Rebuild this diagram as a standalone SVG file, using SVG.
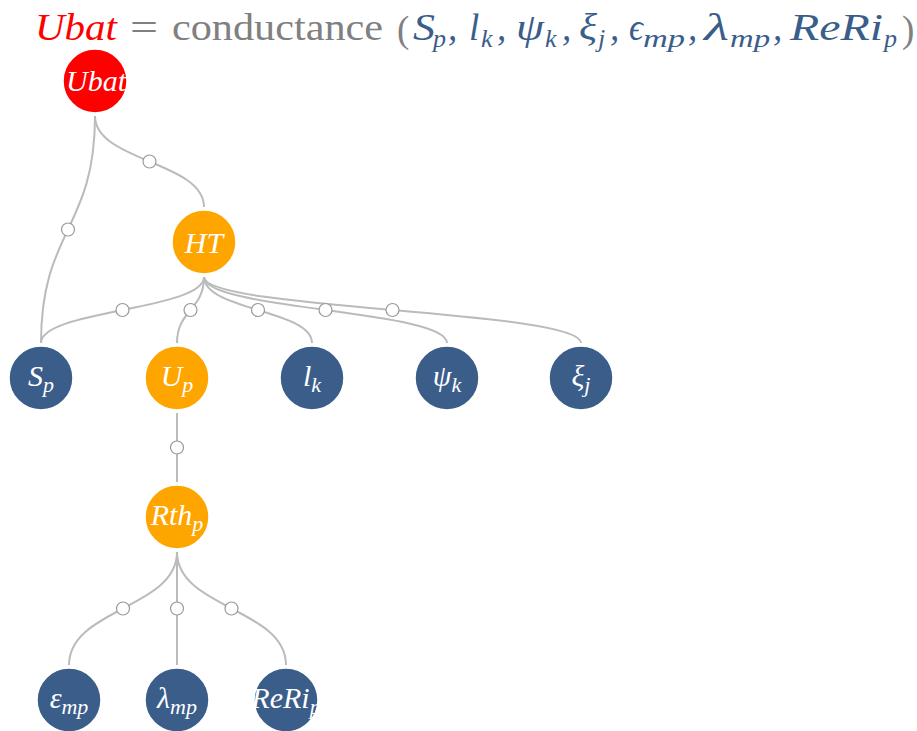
<svg xmlns="http://www.w3.org/2000/svg" width="917" height="731" viewBox="0 0 917 731">
<style>
.link{fill:none;stroke:#bbb;stroke-width:2}
.mid{fill:#fff;stroke:#999;stroke-width:1.2}
.node circle{stroke:#fff;stroke-width:1.5}
.blue circle{fill:#3a5d8a}
.orange circle{fill:#ffa500}
.red circle{fill:#ff0000}
.lbl{font-family:"Liberation Serif","DejaVu Serif",serif;font-style:italic;fill:#fff;font-size:30px}
.sub{font-size:22px}
.t{font-family:"Liberation Serif","DejaVu Serif",serif;font-size:37px}
.mi{font-style:italic;fill:#3a5d8a}
.g{fill:#808080}
.ts{font-size:26px}
</style>
<rect width="917" height="731" fill="#fff"/>
<g id="title">
<text class="t" x="35" y="40" fill="#ff0000" font-style="italic" textLength="82" lengthAdjust="spacingAndGlyphs">Ubat</text>
<text class="t g" x="130" y="40" textLength="28" lengthAdjust="spacingAndGlyphs">=</text>
<text class="t g" x="172" y="40" textLength="211" lengthAdjust="spacingAndGlyphs">conductance</text>
<text class="t g" x="397" y="42" font-size="44">(</text>
<text class="t mi" x="413" y="40" textLength="22" lengthAdjust="spacingAndGlyphs">S</text>
<text class="t mi ts" x="433" y="47">p</text>
<text class="t mi" x="448" y="40">,</text>
<text class="t mi" x="469" y="40">l</text>
<text class="t mi ts" x="481" y="47">k</text>
<text class="t mi" x="497" y="40">,</text>
<text class="t mi" x="516" y="40" textLength="28" lengthAdjust="spacingAndGlyphs">ψ</text>
<text class="t mi ts" x="545" y="47">k</text>
<text class="t mi" x="562" y="40">,</text>
<text class="t mi" x="579" y="40" textLength="18" lengthAdjust="spacingAndGlyphs">ξ</text>
<text class="t mi ts" x="598" y="47">j</text>
<text class="t mi" x="610" y="40">,</text>
<text class="t mi" x="629" y="40" textLength="14" lengthAdjust="spacingAndGlyphs">ϵ</text>
<text class="t mi ts" x="643" y="47" textLength="42" lengthAdjust="spacingAndGlyphs">mp</text>
<text class="t mi" x="688" y="40">,</text>
<text class="t mi" x="704" y="40" textLength="25" lengthAdjust="spacingAndGlyphs">λ</text>
<text class="t mi ts" x="730" y="47" textLength="40" lengthAdjust="spacingAndGlyphs">mp</text>
<text class="t mi" x="773" y="40">,</text>
<text class="t mi" x="790" y="40" textLength="93" lengthAdjust="spacingAndGlyphs">ReRi</text>
<text class="t mi ts" x="884" y="47">p</text>
<text class="t g" x="902" y="42" font-size="44">)</text>
</g>
<g id="links">
<path class="link" d="M95,116C95,229.5 41,229.5 41,343"/>
<path class="link" d="M95,116C95,161.5 204,161.5 204,207"/>
<path class="link" d="M204,277C204,310 41,310 41,343"/>
<path class="link" d="M204,277C204,310 177,310 177,343"/>
<path class="link" d="M204,277C204,310 312,310 312,343"/>
<path class="link" d="M204,277C204,310 447,310 447,343"/>
<path class="link" d="M204,277C204,310 581,310 581,343"/>
<path class="link" d="M177,413C177,447.5 177,447.5 177,482"/>
<path class="link" d="M177,552C177,608.5 69,608.5 69,665"/>
<path class="link" d="M177,552C177,608.5 177,608.5 177,665"/>
<path class="link" d="M177,552C177,608.5 286,608.5 286,665"/>
<circle class="mid" cx="68" cy="229.5" r="6.5"/>
<circle class="mid" cx="149.5" cy="161.5" r="6.5"/>
<circle class="mid" cx="122.5" cy="310" r="6.5"/>
<circle class="mid" cx="190.5" cy="310" r="6.5"/>
<circle class="mid" cx="258" cy="310" r="6.5"/>
<circle class="mid" cx="325.5" cy="310" r="6.5"/>
<circle class="mid" cx="392.5" cy="310" r="6.5"/>
<circle class="mid" cx="177" cy="447.5" r="6.5"/>
<circle class="mid" cx="123" cy="608.5" r="6.5"/>
<circle class="mid" cx="177" cy="608.5" r="6.5"/>
<circle class="mid" cx="231.5" cy="608.5" r="6.5"/>
</g>
<g id="n-ubat" class="node red"><circle cx="95" cy="81" r="32"/><text class="lbl" x="96" y="91" font-size="28.5" text-anchor="middle">Ubat</text></g>
<g id="n-ht" class="node orange"><circle cx="204" cy="242" r="32"/><text class="lbl" x="204" y="253" text-anchor="middle">HT</text></g>
<g id="n-sp" class="node blue"><circle cx="41" cy="378" r="32"/><text class="lbl" x="41" y="386" text-anchor="middle">S<tspan class="sub" dy="6">p</tspan></text></g>
<g id="n-up" class="node orange"><circle cx="177" cy="378" r="32"/><text class="lbl" x="177" y="386" text-anchor="middle">U<tspan class="sub" dy="6">p</tspan></text></g>
<g id="n-lk" class="node blue"><circle cx="312" cy="378" r="32"/><text class="lbl" x="312" y="386" text-anchor="middle">l<tspan class="sub" dy="6">k</tspan></text></g>
<g id="n-psik" class="node blue"><circle cx="447" cy="378" r="32"/><text class="lbl" x="447" y="386" text-anchor="middle">ψ<tspan class="sub" dy="6">k</tspan></text></g>
<g id="n-xij" class="node blue"><circle cx="581" cy="378" r="32"/><text class="lbl" x="581" y="386" text-anchor="middle">ξ<tspan class="sub" dy="6">j</tspan></text></g>
<g id="n-rthp" class="node orange"><circle cx="177" cy="517" r="32"/><text class="lbl" x="177" y="525" text-anchor="middle">Rth<tspan class="sub" dy="6">p</tspan></text></g>
<g id="n-epsmp" class="node blue"><circle cx="69" cy="700" r="32"/><text class="lbl" x="69" y="708" text-anchor="middle">ε<tspan class="sub" dy="6">mp</tspan></text></g>
<g id="n-lambdamp" class="node blue"><circle cx="177" cy="700" r="32"/><text class="lbl" x="177" y="708" text-anchor="middle">λ<tspan class="sub" dy="6">mp</tspan></text></g>
<g id="n-rerip" class="node blue"><circle cx="286" cy="700" r="32"/><text class="lbl" x="286" y="708" text-anchor="middle">ReRi<tspan class="sub" dy="6">p</tspan></text></g>
</svg>
